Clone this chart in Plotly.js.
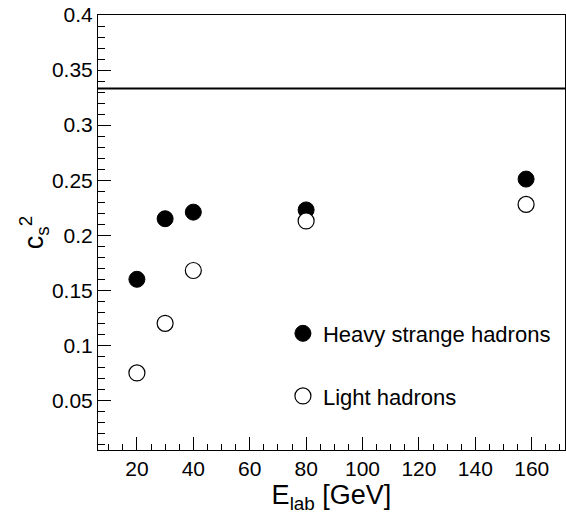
<!DOCTYPE html>
<html>
<head>
<meta charset="utf-8">
<script src="https://cdn.plot.ly/plotly-3.0.1.min.js"></script>
<style>html,body{margin:0;padding:0;background:#fff;}#chart{width:566px;height:514px;}</style>
</head>
<body>
<div id="chart"></div>
<script>
const energies = [20, 30, 40, 80, 158];
const heavyStrange = [0.160, 0.215, 0.221, 0.223, 0.251];
const lightHadrons = [0.075, 0.120, 0.168, 0.213, 0.228];
const conformalLimit = 1 / 3;
const seriesNames = ["Heavy strange hadrons", "Light hadrons"];

const font = "Liberation Sans, Arial, sans-serif";

const traces = [
  {
    x: energies, y: heavyStrange, type: "scatter", mode: "markers",
    name: seriesNames[0], legendgroup: "a",
    marker: {symbol: "circle", size: 16, color: "#000", line: {color: "#000", width: 1}}
  },
  {
    x: energies, y: lightHadrons, type: "scatter", mode: "markers",
    name: seriesNames[1], legendgroup: "b",
    marker: {symbol: "circle", size: 16, color: "#fff", line: {color: "#000", width: 1.2}}
  }
];

const layout = {
  width: 566, height: 514,
  margin: {l: 98, r: 1, t: 15, b: 64},
  paper_bgcolor: "#fff", plot_bgcolor: "#fff",
  font: {family: font, color: "#000", size: 21},
  showlegend: true,
  legend: {
    x: 0.396, y: 0.316, xanchor: "left", yanchor: "top",
    bgcolor: "rgba(0,0,0,0)", borderwidth: 0,
    font: {family: font, size: 22, color: "#000"},
    traceorder: "grouped", tracegroupgap: 31, itemsizing: "trace"
  },
  xaxis: {
    range: [6.2, 171.8], showgrid: false, zeroline: false,
    showline: true, linecolor: "#000", linewidth: 1, mirror: true,
    ticks: "inside", ticklen: 13, tickwidth: 1, tickcolor: "#000",
    dtick: 20, tick0: 0,
    minor: {dtick: 5, ticks: "inside", ticklen: 6, tickcolor: "#000", showgrid: false},
    tickfont: {family: font, size: 21, color: "#000"},
    title: {text: "E<sub>lab</sub> [GeV]", font: {family: font, size: 27, color: "#000"}, standoff: 10}
  },
  yaxis: {
    range: [0.005, 0.4], showgrid: false, zeroline: false,
    showline: true, linecolor: "#000", linewidth: 1, mirror: true,
    ticks: "inside", ticklen: 13, tickwidth: 1, tickcolor: "#000",
    dtick: 0.05, tick0: 0,
    minor: {dtick: 0.01, ticks: "inside", ticklen: 7, tickcolor: "#000", showgrid: false},
    tickfont: {family: font, size: 21, color: "#000"},
    title: {text: "c<sub>s</sub><sup>2</sup>", font: {family: font, size: 27, color: "#000"}, standoff: 0}
  },
  shapes: [{
    type: "line", xref: "paper", x0: 0, x1: 1, yref: "y", y0: conformalLimit, y1: conformalLimit,
    line: {color: "#000", width: 2}
  }]
};

Plotly.newPlot("chart", traces, layout, {staticPlot: true, displayModeBar: false});
</script>
</body>
</html>
